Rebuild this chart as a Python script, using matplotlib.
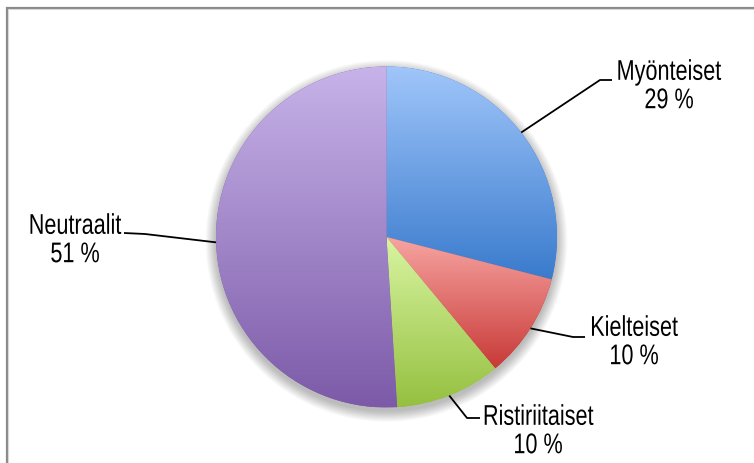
import numpy as np
import matplotlib.pyplot as plt
from matplotlib.colors import LinearSegmentedColormap
from matplotlib.patches import Circle
from matplotlib.patheffects import AbstractPathEffect
from matplotlib.transforms import Affine2D

labels = ["Myönteiset", "Kielteiset", "Ristiriitaiset", "Neutraalit"]
shares = [29, 10, 10, 51]
pct_labels = ["29 %", "10 %", "10 %", "51 %"]
top_colors = ["#a0c6fa", "#f7a5a2", "#d9f5a2", "#c7b3e9"]
bottom_colors = ["#3a7bcd", "#c83a38", "#95c040", "#7c5aa8"]

W, H = 754, 463
fig = plt.figure(figsize=(W / 100, H / 100), dpi=100)
ax = fig.add_axes([0, 0, 1, 1])


class Condensed(AbstractPathEffect):
    # squeeze glyphs horizontally around x0 (display px) to mimic a narrow font
    def __init__(self, x0, sx):
        super().__init__()
        self.x0, self.sx = x0, sx

    def draw_path(self, renderer, gc, tpath, affine, rgbFace=None):
        squeeze = Affine2D().translate(-self.x0, 0).scale(self.sx, 1).translate(self.x0, 0)
        renderer.draw_path(gc, tpath, affine + squeeze, rgbFace)


# pie geometry, in pixels (y measured from the top of the picture)
cx, cy, r = 386.5, 237, 170.5
center = (cx, H - cy)

# soft shadow under the pie
for i in range(14):
    ax.add_patch(Circle((cx, H - cy - 4), r + i * 0.8, color="black",
                        alpha=0.018, lw=0, zorder=0))

wedges, _ = ax.pie(shares, startangle=90, counterclock=False,
                   center=center, radius=r, colors=bottom_colors,
                   wedgeprops=dict(lw=0))
ax.set_xlim(0, W)
ax.set_ylim(0, H)
ax.set_aspect("auto")
ax.set_axis_off()

# vertical gradient per slice, clipped to the wedge
for w, c0, c1 in zip(wedges, top_colors, bottom_colors):
    w.set_zorder(2)
    ext = w.get_path().get_extents()
    cmap = LinearSegmentedColormap.from_list("g", [c1, c0])
    grad = np.linspace(0, 1, 256).reshape(-1, 1)
    im = ax.imshow(grad, cmap=cmap, origin="lower", aspect="auto",
                   extent=[ext.x0, ext.x1, ext.y0, ext.y1], zorder=3,
                   interpolation="bilinear")
    im.set_clip_path(w)

# label block centres, elbow and end of leader lines (pixels from top-left)
text_pos = [(669, 87), (634, 343), (538, 432), (75, 241)]
elbows = [(600, 80), (573, 337), (467, 418), (145, 234)]
ends = [(612, 80), (585, 337), (480, 418), (124, 233)]

for w, lab, pct, tp, el, en in zip(wedges, labels, pct_labels, text_pos, elbows, ends):
    mid = np.deg2rad((w.theta1 + w.theta2) / 2)
    sx, sy = cx + r * np.cos(mid), H - cy + r * np.sin(mid)
    ax.plot([sx, el[0], en[0]], [sy, H - el[1], H - en[1]], color="black",
            lw=1.3, zorder=4, solid_capstyle="butt")
    t = ax.text(tp[0], H - tp[1], lab + "\n" + pct, ha="center", va="center",
                multialignment="center", fontsize=20.5, family="Liberation Sans",
                linespacing=1.12, zorder=5)
    x_disp = ax.transData.transform((tp[0], 0))[0]
    t.set_path_effects([Condensed(x_disp, 0.76)])

# chart frame (only top and left edges are inside the picture)
ax.plot([6.5, 6.5, W + 5], [-5, H - 7.5, H - 7.5], color="#8a8a8a", lw=1.6,
        zorder=6, solid_joinstyle="miter")
ax.plot([8, 8, W + 5], [-5, H - 9, H - 9], color="#d8d8d8", lw=0.8, zorder=6)

fig.savefig("out.png", dpi=100)
